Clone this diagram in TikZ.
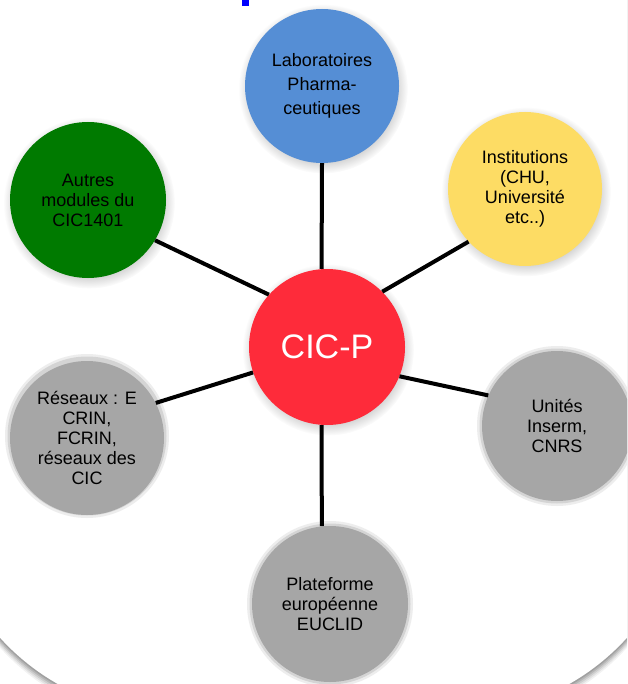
\documentclass[tikz,border=0pt]{standalone}
\usepackage{fontspec}
\setmainfont{Liberation Sans}
\usetikzlibrary{shadows}
\definecolor{cblue}{HTML}{558ED5}
\definecolor{cyellow}{HTML}{FDDC64}
\definecolor{cgreen}{HTML}{007A00}
\definecolor{cred}{HTML}{FE2B3A}
\definecolor{cgray}{HTML}{A6A6A6}
\begin{document}
\begin{tikzpicture}[x=1pt,y=-1pt,
  bub/.style={circle, inner sep=0pt, align=center, text=black,
    font=\fontsize{18}{20}\selectfont},
  colbub/.style={bub, circular drop shadow={shadow xshift=1pt, shadow yshift=-2.5pt, fill=black, opacity=.18}},
  link/.style={line width=4pt, black},
  panelshape/.style={rounded corners=232pt}]
\useasboundingbox (0,0) rectangle (627,684);
\clip (0,0) rectangle (627,684);
% panel and its shadow
\foreach \o/\op in {10/0.05,8/0.07,6/0.09,4/0.11,2/0.12}
  \fill[black, opacity=\op, panelshape] (-60,{-100+\o}) rectangle (687,{714+\o});
\fill[white, panelshape] (-60,-100) rectangle (687,714);
% cut title mark
\fill[blue] (242,0) rectangle (249,6);
% glow of grey circles
\foreach \cx/\cy/\r in {87/436/77, 557/426/75, 330/604/78}{
  \fill[cgray, opacity=.2] (\cx,\cy) circle ({\r+5});
  \fill[cgray, opacity=.35] (\cx,\cy) circle ({\r+2.5});
}
% circles
\node[colbub, fill=cblue, minimum size=154pt, font=\fontsize{18}{24}\selectfont] (lab) at (322,86) {Laboratoires\\Pharma-\\ceutiques};
\node[colbub, fill=cyellow, minimum size=154pt] (inst) at (525,189) {Institutions\\(CHU,\\Universit\'e\\etc..)};
\node[colbub, fill=cgreen, minimum size=156pt] (autres) at (88,200) {Autres\\modules du\\CIC1401};
\node[colbub, fill=cred, minimum size=156pt, text=white, font=\fontsize{34}{40}\selectfont] (cicp) at (327,347) {CIC-P};
\node[bub, fill=cgray, minimum size=154pt] (res) at (87,438) {R\'eseaux : E\\CRIN,\\FCRIN,\\r\'eseaux des\\CIC};
\node[bub, fill=cgray, minimum size=150pt] (unit) at (557,426) {Unit\'es\\Inserm,\\CNRS};
\node[bub, fill=cgray, minimum size=156pt] (eu) at (330,604) {Plateforme\\europ\'eenne\\EUCLID};
% connectors
\draw[link] (cicp.94) -- (lab.270);
\draw[link] (cicp.45) -- (inst.223);
\draw[link] (cicp.138) -- (autres.329);
\draw[link] (cicp.199) -- (res.27);
\draw[link] (cicp.338) -- (unit.156);
\draw[link] (cicp.266) -- (eu.96);
\end{tikzpicture}
\end{document}
